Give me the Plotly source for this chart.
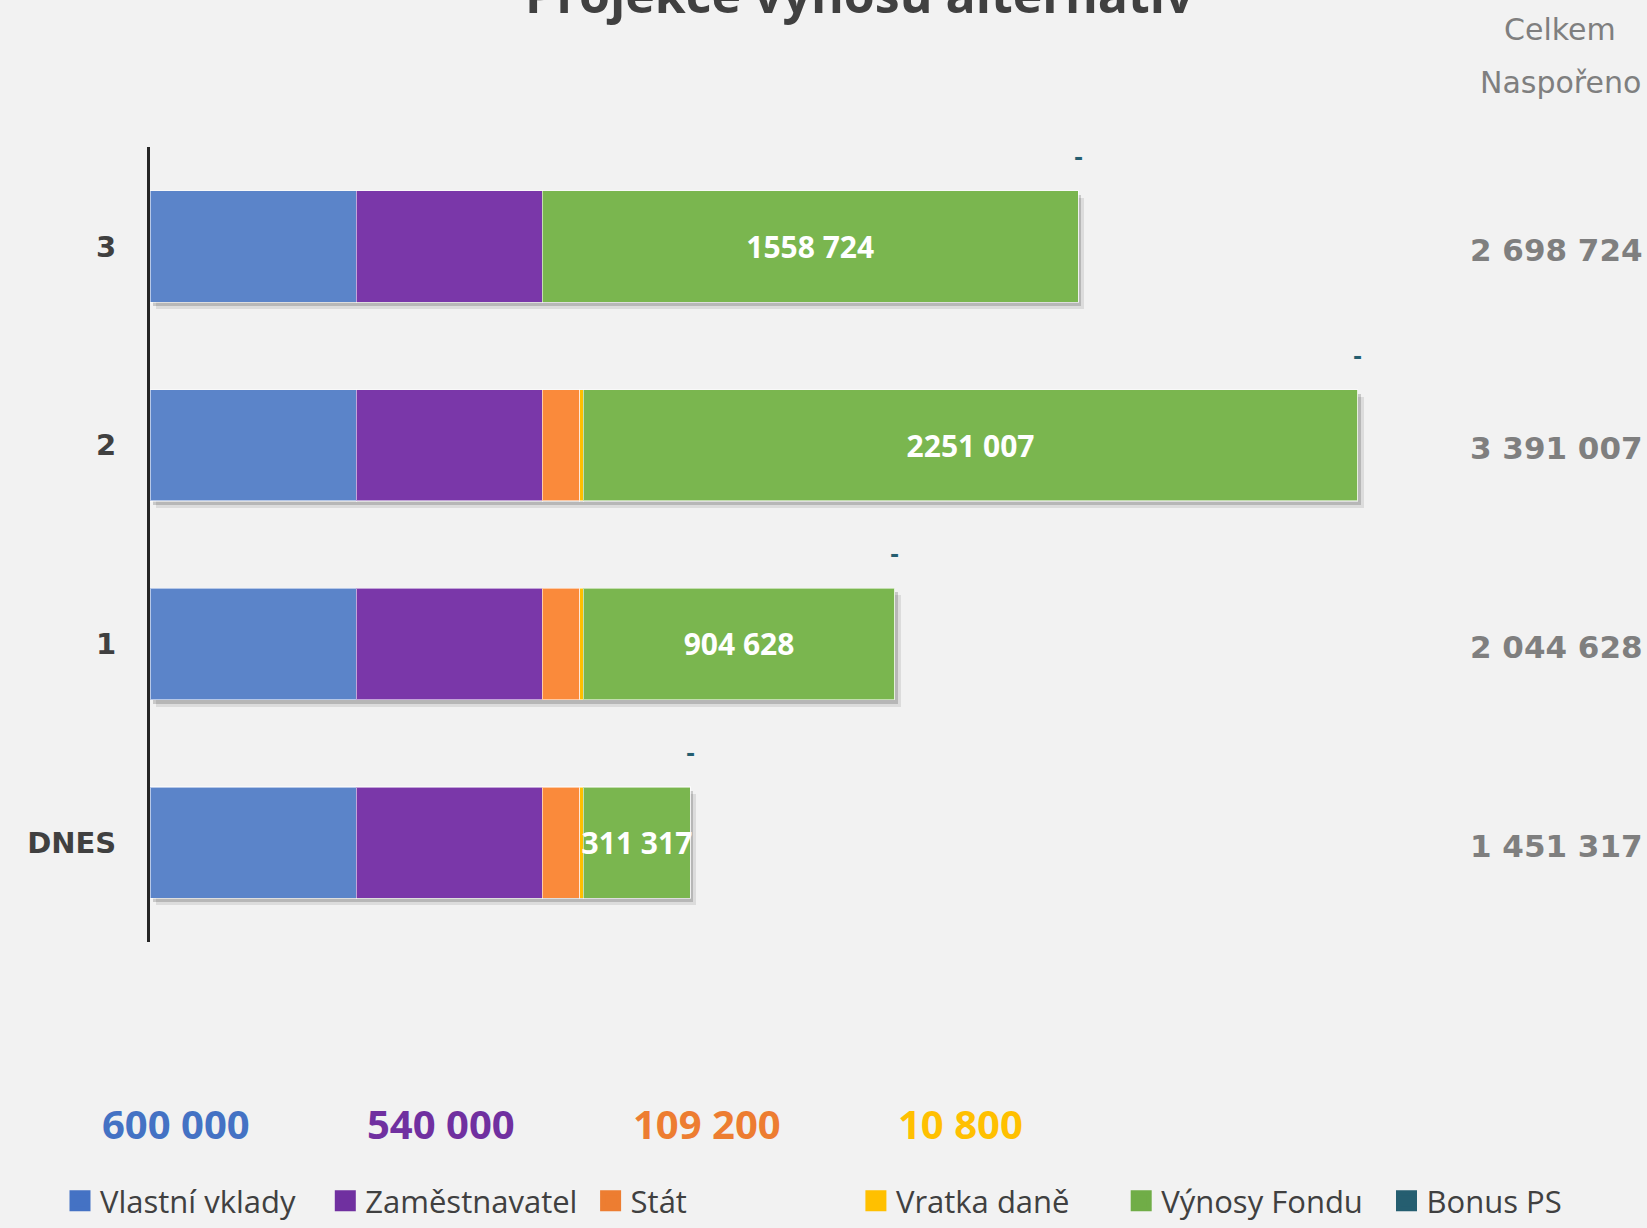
import plotly.graph_objects as go

# ---- data -------------------------------------------------------------
categories = ["DNES", "1", "2", "3"]

vlastni_vklady = [600000, 600000, 600000, 600000]
zamestnavatel = [540000, 540000, 540000, 540000]
stat = [109200, 109200, 109200, 0]
vratka_dane = [10800, 10800, 10800, 0]
vynosy_fondu = [311317, 904628, 2251007, 1558724]
bonus_ps = [0, 0, 0, 0]

celkem_nasporeno = [1451317, 2044628, 3391007, 2698724]

series_names = ["Vlastní vklady", "Zaměstnavatel", "Stát",
                "Vratka daně", "Výnosy Fondu", "Bonus PS"]

# ---- styling ----------------------------------------------------------
W, H = 1647, 1228
BG = "#f2f2f2"
TEXT_DARK = "#404040"
TEXT_GREY = "#7f7f7f"

bar_colors = ["#5b84c9", "#7a37a9", "#fa8a3b", "#ffc000", "#7ab64f", "#255e70"]
legend_colors = ["#4472c4", "#7030a0", "#ed7d31", "#ffc000", "#70ad47", "#255e70"]

X_LEFT, X_RIGHT = 150, 1400      # plot area, px
Y_TOP, Y_BOTTOM = 148, 947.5
X_MAX = 3_634_000                 # value at the right edge of the plot area
COL_PITCH = 265.3                 # legend column spacing, px
TEXT_X0 = 100                     # left edge of first legend label, px
LEGEND_X0 = 60                    # left edge of first legend entry, px
LEGEND_Y = 1208                   # vertical centre of the legend row, px


def fx(px):
    return px / W


def fy(px):
    return 1 - px / H


def grouped(v):
    return f"{v:,}".replace(",", " ")


def bar_label(v):
    return f"{v // 1000} {v % 1000:03d}"


series = [vlastni_vklady, zamestnavatel, stat, vratka_dane, vynosy_fondu, bonus_ps]
bar_totals = [sum(vals) for vals in zip(*series)]

fig = go.Figure()

# soft drop shadow under each stacked bar (two offset layers)
shadow_layers = [(6, 7, 0.09), (3, 4, 0.17)]
for i, (dx, dy, alpha) in enumerate(shadow_layers):
    sfx = "" if i == 0 else str(i + 1)
    fig.add_trace(go.Bar(
        x=bar_totals, y=categories, orientation="h",
        marker=dict(color=f"rgba(0,0,0,{alpha})", line=dict(width=0)),
        showlegend=False, hoverinfo="skip",
        xaxis="x" + sfx, yaxis="y" + sfx,
    ))
    fig.update_layout(**{
        "xaxis" + sfx: dict(domain=[fx(X_LEFT + dx), fx(X_RIGHT + dx)],
                            range=[0, X_MAX], visible=False, fixedrange=True,
                            anchor="y" + sfx),
        "yaxis" + sfx: dict(domain=[fy(Y_BOTTOM + dy), fy(Y_TOP + dy)],
                            type="category", categoryarray=categories,
                            categoryorder="array", range=[-0.5, 3.5],
                            visible=False, fixedrange=True, anchor="x" + sfx),
    })

MX, MY = "x3", "y3"

# stacked segments
for name, vals, col in zip(series_names, series, bar_colors):
    kw = {}
    if name == "Výnosy Fondu":
        kw = dict(text=[bar_label(v) for v in vals], textposition="inside",
                  insidetextanchor="middle", textangle=0, constraintext="none",
                  textfont=dict(family="Open Sans", size=30, color="white",
                                weight="bold"))
    fig.add_trace(go.Bar(
        x=vals, y=categories, orientation="h", name=name,
        marker=dict(color=col, line=dict(color="rgba(255,255,255,0.55)", width=1.2)),
        showlegend=False, xaxis=MX, yaxis=MY, **kw,
    ))

# legend entries: first five columns in one legend, the last column in a second
for k, (name, col) in enumerate(zip(series_names, legend_colors)):
    fig.add_trace(go.Scatter(
        x=[None], y=[None], mode="markers", name=name,
        marker=dict(symbol="square", size=22, color=col,
                    line=dict(color=col, width=5)),
        xaxis=MX, yaxis=MY, legend="legend" if k < 5 else "legend2",
    ))

annotations = []

# zero-value "Bonus PS" labels shown as a dash above each bar end
for cat, tot, b in zip(categories, bar_totals, bonus_ps):
    annotations.append(dict(
        x=tot, y=cat, xref=MX, yref=MY, text="-" if b == 0 else grouped(b),
        showarrow=False, yshift=89,
        font=dict(family="DejaVu Sans", size=22, color=bar_colors[5], weight="bold"),
    ))

# totals column
for cat, tot in zip(categories, celkem_nasporeno):
    annotations.append(dict(
        x=fx(1645), y=cat, xref="paper", yref=MY, xanchor="right",
        text=grouped(tot), showarrow=False, yshift=-3,
        font=dict(family="DejaVu Sans", size=31, color=TEXT_GREY, weight="bold"),
    ))

for txt, py in (("Celkem", 30), ("Naspořeno", 83)):
    annotations.append(dict(
        x=fx(1560), y=fy(py), xref="paper", yref="paper", text=txt,
        showarrow=False, xanchor="center", yanchor="middle",
        font=dict(family="DejaVu Sans", size=30, color=TEXT_GREY),
    ))

# contribution totals above the legend
for k, (vals, col) in enumerate(zip(series[:4], legend_colors[:4])):
    annotations.append(dict(
        x=fx(TEXT_X0 + k * COL_PITCH), y=fy(1130), xref="paper", yref="paper",
        text=grouped(max(vals)), showarrow=False, xanchor="left", yanchor="middle",
        font=dict(family="Open Sans", size=40, color=col, weight="bold"),
    ))

# title
annotations.append(dict(
    x=fx(859), y=fy(30), xref="paper", yref="paper", xanchor="center",
    yanchor="bottom", text="Projekce výnosů alternativ", showarrow=False,
    font=dict(family="Open Sans", size=50, color=TEXT_DARK, weight="bold"),
))

legend_style = dict(orientation="h", xanchor="left", y=fy(LEGEND_Y),
                    yanchor="middle", entrywidthmode="pixels",
                    font=dict(family="Open Sans", size=31, color=TEXT_DARK),
                    bgcolor="rgba(0,0,0,0)", traceorder="normal")

fig.update_layout(
    width=W, height=H,
    margin=dict(l=0, r=0, t=0, b=0),
    paper_bgcolor=BG, plot_bgcolor="rgba(0,0,0,0)",
    barmode="stack", bargap=0.44,
    showlegend=True,
    legend=dict(x=fx(LEGEND_X0), entrywidth=COL_PITCH - 45, **legend_style),
    legend2=dict(x=fx(LEGEND_X0 + 5 * COL_PITCH), entrywidth=140, **legend_style),
    xaxis3=dict(domain=[fx(X_LEFT), fx(X_RIGHT)], range=[0, X_MAX],
                visible=False, fixedrange=True, anchor=MY),
    yaxis3=dict(domain=[fy(Y_BOTTOM), fy(Y_TOP)], type="category",
                categoryarray=categories, categoryorder="array",
                range=[-0.5, 3.5], fixedrange=True, anchor=MX,
                showline=True, linecolor="#262626", linewidth=3,
                showgrid=False, zeroline=False, ticks="",
                ticklabelstandoff=25,
                tickfont=dict(family="DejaVu Sans", size=29, color=TEXT_DARK,
                              weight="bold")),
    annotations=annotations,
)

fig.write_html("out.html")
